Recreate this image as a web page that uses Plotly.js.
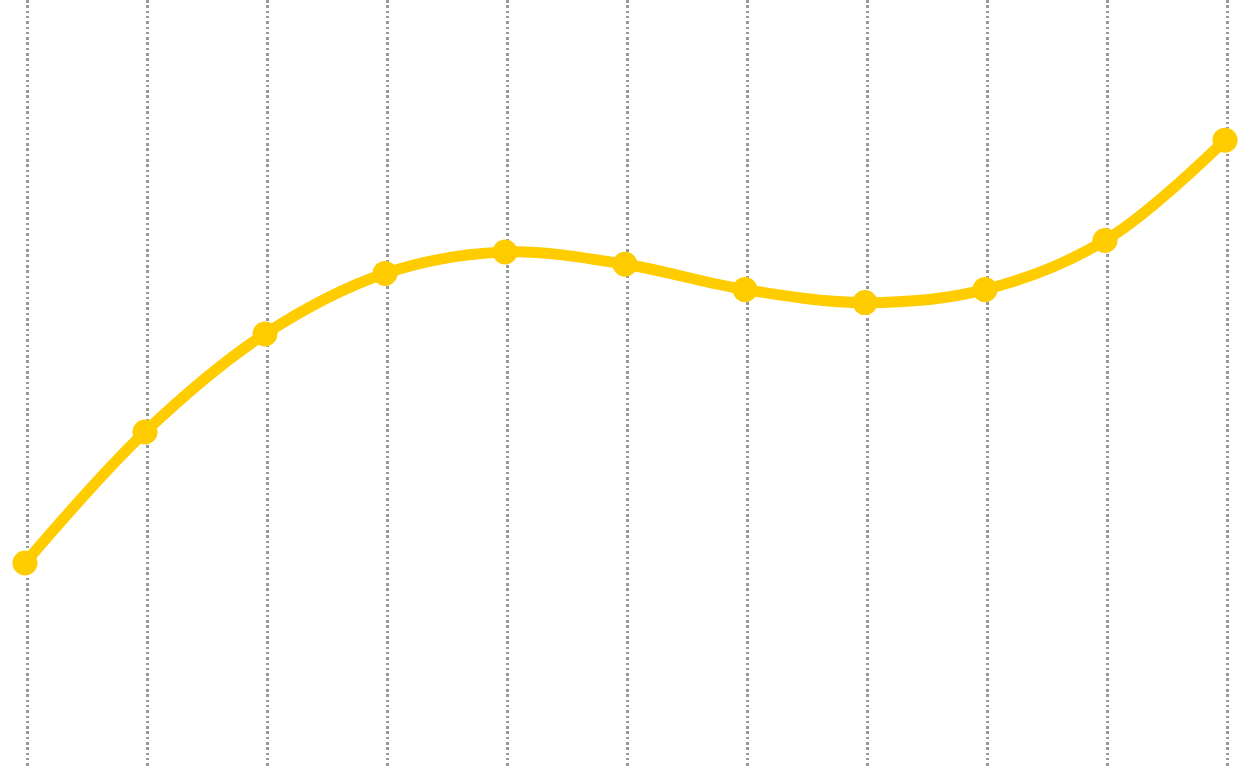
<!DOCTYPE html>
<html>
<head>
<meta charset="utf-8">
<script src="https://cdn.plot.ly/plotly-3.0.1.min.js"></script>
<style>
  html, body { margin: 0; padding: 0; background: #fff; }
  #chart { width: 1252px; height: 766px; }
</style>
</head>
<body>
<div id="chart"></div>
<script>
// values
var xs = [0, 1, 2, 3, 4, 5, 6, 7, 8, 9, 10];
var ys = [26.5, 43.6, 56.4, 64.3, 67.1, 65.5, 62.2, 60.5, 62.2, 68.6, 81.7];

var trace = {
  x: xs,
  y: ys,
  type: 'scatter',
  mode: 'lines+markers',
  line: {color: '#ffcc00', width: 11, shape: 'spline', smoothing: 1},
  marker: {color: '#ffcc00', size: 25},
  cliponaxis: false,
  hoverinfo: 'none'
};

var layout = {
  width: 1252,
  height: 766,
  margin: {l: 0, r: 0, t: 0, b: 0, pad: 0},
  paper_bgcolor: '#fff',
  plot_bgcolor: '#fff',
  showlegend: false,
  xaxis: {
    range: [-0.2083, 10.225],
    tick0: 0.0208,
    dtick: 1,
    showgrid: true,
    gridcolor: '#999999',
    gridwidth: 3,
    griddash: '2.5px,2.8px',
    zeroline: false,
    showline: false,
    showticklabels: false,
    ticks: ''
  },
  yaxis: {
    range: [0, 100],
    showgrid: false,
    zeroline: false,
    showline: false,
    showticklabels: false,
    ticks: ''
  }
};

Plotly.newPlot('chart', [trace], layout, {staticPlot: true, displayModeBar: false});
</script>
</body>
</html>
